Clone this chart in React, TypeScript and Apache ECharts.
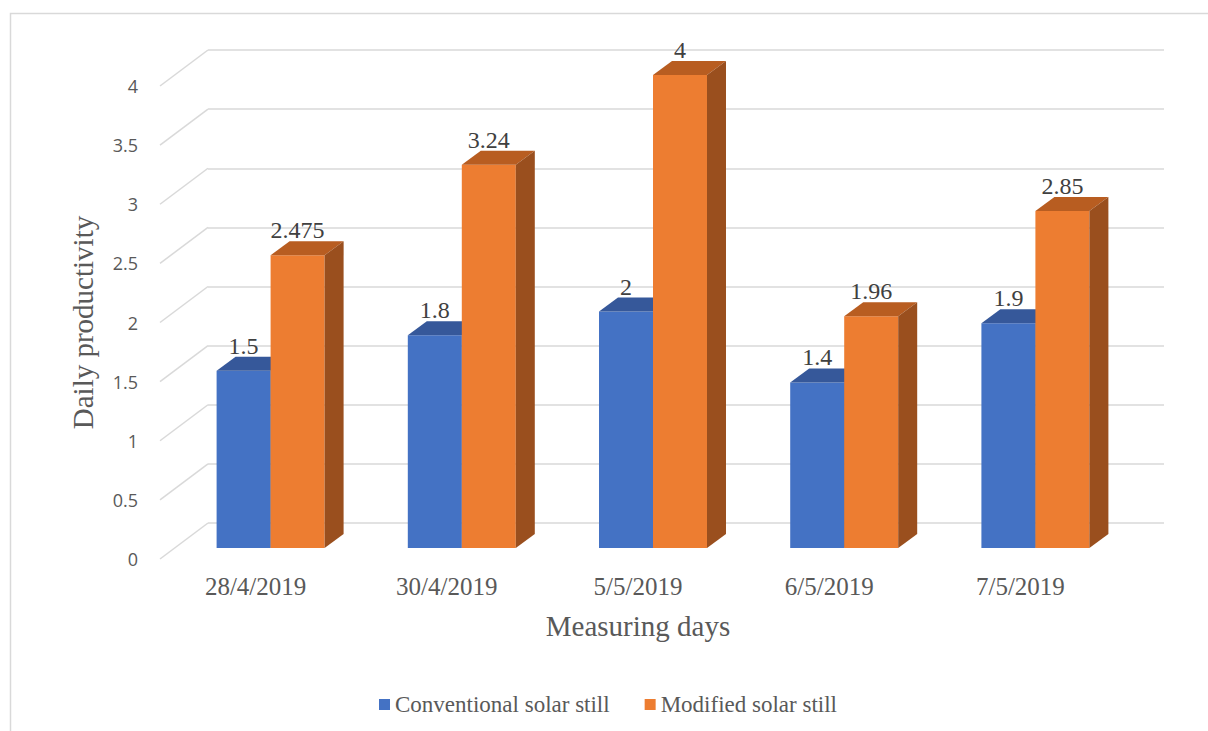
import React, { useEffect, useRef } from "react";
import * as echarts from "echarts";

const categories = ["28/4/2019", "30/4/2019", "5/5/2019", "6/5/2019", "7/5/2019"];
const conventional = [1.5, 1.8, 2, 1.4, 1.9];
const modified = [2.475, 3.24, 4, 1.96, 2.85];
const seriesNames = ["Conventional solar still", "Modified solar still"];
const yTicks = [0, 0.5, 1, 1.5, 2, 2.5, 3, 3.5, 4];

// layout (bar plane, front plane, back wall)
const BAR_LEFT = 175;
const BAR_TOP = 75;
const PLOT_W = 956;
const PLOT_H = 473;
const FRONT_DX = -15;
const FRONT_DY = 11;
const BACK_DX = 33;
const BACK_DY = -25;
const DEPTH_DX = 19;
const DEPTH_DY = -14;
const BAR_RATIO = 0.2824;

const SERIF = "Liberation Serif";
const SANS = "Open Sans";

function barRenderer(side: number, front: string, top: string, sideColor: string) {
  return (params: any, api: any) => {
    const idx = api.value(0);
    const val = api.value(1);
    const p = api.coord([idx, val]);
    const b = api.coord([idx, 0]);
    const band = api.size([1, 0])[0];
    const bw = band * BAR_RATIO;
    const x0 = side === 0 ? p[0] - bw : p[0];
    const x1 = x0 + bw;
    const yT = p[1];
    const yB = b[1];
    return {
      type: "group",
      children: [
        {
          type: "rect",
          shape: { x: x0, y: yT, width: bw, height: yB - yT },
          style: { fill: front },
        },
        {
          type: "polygon",
          shape: {
            points: [
              [x0, yT],
              [x0 + DEPTH_DX, yT + DEPTH_DY],
              [x1 + DEPTH_DX, yT + DEPTH_DY],
              [x1, yT],
            ],
          },
          style: { fill: top },
        },
        {
          type: "polygon",
          shape: {
            points: [
              [x1, yT],
              [x1 + DEPTH_DX, yT + DEPTH_DY],
              [x1 + DEPTH_DX, yB + DEPTH_DY],
              [x1, yB],
            ],
          },
          style: { fill: sideColor },
        },
        {
          type: "text",
          x: (x0 + x1) / 2,
          y: yT + DEPTH_DY + 1,
          style: {
            legacy: false,
            text: String(val),
            fill: "#404040",
            fontFamily: SERIF,
            fontSize: 24,
            align: "center",
            verticalAlign: "bottom",
          },
        },
      ],
    };
  };
}

export default function App() {
  const ref = useRef<HTMLDivElement>(null);
  useEffect(() => {
    if (!ref.current) return;
    const chart = echarts.init(ref.current, null, { renderer: "svg" });
    const hiddenCat = {
      type: "category",
      data: categories,
      axisLine: { show: false },
      axisTick: { show: false },
      axisLabel: { show: false },
      splitLine: { show: false },
    };
    const hiddenVal = {
      type: "value",
      min: 0,
      max: 4,
      interval: 0.5,
      axisLine: { show: false },
      axisTick: { show: false },
      axisLabel: { show: false },
      splitLine: { show: false },
    };
    chart.setOption({
      animation: false,
      backgroundColor: "#ffffff",
      textStyle: { fontFamily: SERIF },
      graphic: [
        {
          type: "rect",
          shape: { x: 10.5, y: 13.5, width: 1400, height: 900 },
          style: { fill: "none", stroke: "#D9D9D9", lineWidth: 1.5 },
          silent: true,
          z: -10,
        },
      ],
      grid: [
        { left: BAR_LEFT, top: BAR_TOP, width: PLOT_W, height: PLOT_H },
        { left: BAR_LEFT + FRONT_DX, top: BAR_TOP + FRONT_DY, width: PLOT_W, height: PLOT_H },
        { left: BAR_LEFT + BACK_DX, top: BAR_TOP + BACK_DY, width: PLOT_W, height: PLOT_H },
      ],
      xAxis: [
        { ...hiddenCat, gridIndex: 0 },
        {
          ...hiddenCat,
          gridIndex: 1,
          axisLabel: {
            show: true,
            color: "#595959",
            fontFamily: SERIF,
            fontSize: 25,
            margin: 15,
          },
          name: "Measuring days",
          nameLocation: "middle",
          nameGap: 52,
          nameTextStyle: { color: "#595959", fontFamily: SERIF, fontSize: 29 },
        },
        { ...hiddenCat, gridIndex: 2 },
      ],
      yAxis: [
        { ...hiddenVal, gridIndex: 0 },
        {
          ...hiddenVal,
          gridIndex: 1,
          axisLabel: {
            show: true,
            color: "#595959",
            fontFamily: SANS,
            fontSize: 18,
            margin: 22,
          },
          name: "Daily productivity",
          nameLocation: "middle",
          nameGap: 63,
          nameTextStyle: { color: "#595959", fontFamily: SERIF, fontSize: 29 },
        },
        {
          ...hiddenVal,
          gridIndex: 2,
          splitLine: { show: true, lineStyle: { color: "#D9D9D9", width: 1.5 } },
        },
      ],
      legend: {
        left: 374,
        top: 688,
        icon: "rect",
        itemWidth: 11,
        itemHeight: 11,
        itemGap: 35,
        textStyle: { color: "#595959", fontFamily: SERIF, fontSize: 23 },
        data: seriesNames,
      },
      series: [
        {
          type: "custom",
          name: "diagonals",
          xAxisIndex: 1,
          yAxisIndex: 1,
          z: 1,
          silent: true,
          data: yTicks.map((v) => [0, v]),
          renderItem: (params: any, api: any) => {
            const y = api.coord([0, api.value(1)])[1];
            const x = params.coordSys.x;
            return {
              type: "line",
              shape: {
                x1: x,
                y1: y,
                x2: x + (BACK_DX - FRONT_DX),
                y2: y + (BACK_DY - FRONT_DY),
              },
              style: { stroke: "#D9D9D9", lineWidth: 1.5 },
            };
          },
        },
        {
          type: "custom",
          name: seriesNames[0],
          xAxisIndex: 0,
          yAxisIndex: 0,
          z: 2,
          itemStyle: { color: "#4472C4" },
          data: conventional.map((v, i) => [i, v]),
          renderItem: barRenderer(0, "#4472C4", "#36589A", "#2F528F"),
        },
        {
          type: "custom",
          name: seriesNames[1],
          xAxisIndex: 0,
          yAxisIndex: 0,
          z: 3,
          itemStyle: { color: "#ED7D31" },
          data: modified.map((v, i) => [i, v]),
          renderItem: barRenderer(1, "#ED7D31", "#B85D21", "#9A4F1E"),
        },
      ],
    });
    return () => chart.dispose();
  }, []);
  return (
    <div
      ref={ref}
      style={{ position: "absolute", left: 0, top: 0, width: 1208, height: 731 }}
    />
  );
}
